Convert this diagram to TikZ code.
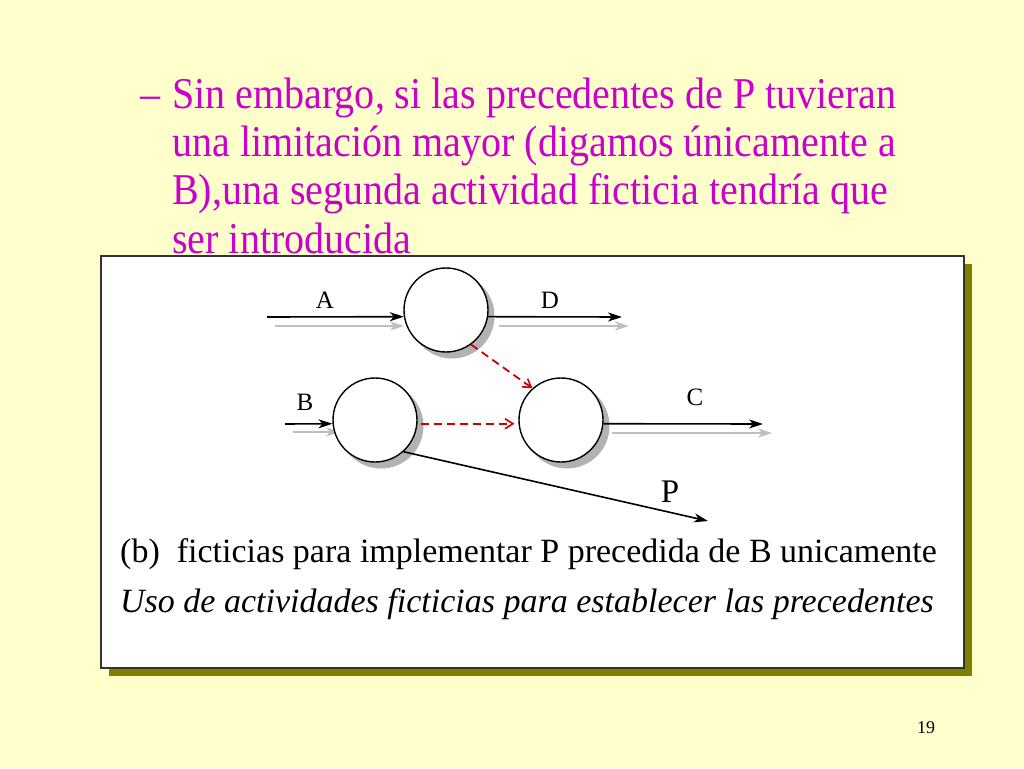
\documentclass[tikz,border=0pt]{standalone}
\usepackage{fontspec}
\setmainfont{Liberation Serif}
\usetikzlibrary{arrows.meta,calc}

\definecolor{slidebg}{RGB}{255,255,204}
\definecolor{slidetext}{RGB}{204,0,204}
\definecolor{boxshadow}{RGB}{128,128,0}
\definecolor{boxline}{RGB}{51,51,51}
\definecolor{nodeshadow}{RGB}{178,178,178}
\definecolor{arrowgray}{RGB}{190,190,190}
\definecolor{dummyred}{RGB}{204,0,0}

\newcommand{\slidetxt}[1]{\scalebox{0.91}[1]{#1}}

\tikzset{
  event/.style={circle, draw, line width=1.4pt, fill=white, minimum size=84pt, inner sep=0pt},
  evshadow/.style={circle, fill=nodeshadow, minimum size=85pt, inner sep=0pt},
  act/.style={line width=1.6pt, -{Stealth[length=14pt,width=9pt,inset=4pt]}},
  actshadow/.style={act, arrowgray, line width=1.8pt},
  dummy/.style={dummyred, line width=1.8pt, dash pattern=on 8pt off 5pt,
    -{Straight Barb[length=8pt,width=10pt,line width=1.6pt]}},
  lbl/.style={font=\fontsize{25}{25}\selectfont, inner sep=0pt},
  slideline/.style={anchor=base west, text=slidetext, font=\fontsize{44}{48}\selectfont, inner sep=0pt},
}

\begin{document}
\begin{tikzpicture}[x=1pt, y=-1pt]
  \useasboundingbox (0,0) rectangle (1024,768);
  \fill[slidebg] (0,0) rectangle (1024,768);

  % framed box with its olive shadow
  \fill[boxshadow] (109,264) rectangle (972,676);
  \draw[boxline, line width=1.6pt, fill=white] (101,256) rectangle (964,668);

  % slide text
  \node[slideline] (dash) at (140,108) {\slidetxt{–}};
  \node[slideline] (t1) at (172,108) {\slidetxt{Sin embargo, si las precedentes de P tuvieran}};
  \node[slideline] (t2) at (172,156) {\slidetxt{una limitación mayor (digamos únicamente a}};
  \node[slideline] (t3) at (172,204) {\slidetxt{B),una segunda actividad ficticia tendría que}};
  \node[slideline] (t4) at (172,253) {\slidetxt{ser introducida}};

  % gray shadows of the activities
  \coordinate (a0s) at (275,326);
  \coordinate (a1s) at (404,326);
  \coordinate (d0s) at (499,326);
  \coordinate (d1s) at (629,326);
  \coordinate (b0s) at (293,432);
  \coordinate (b1s) at (340,432);
  \coordinate (c0s) at (612,433);
  \coordinate (c1s) at (772,433);
  \draw[actshadow] (a0s) -- (a1s);
  \draw[actshadow] (d0s) -- (d1s);
  \draw[actshadow] (b0s) -- (b1s);
  \draw[actshadow] (c0s) -- (c1s);

  % events
  \node[evshadow] at (452,316) {};
  \node[evshadow] at (381,426) {};
  \node[evshadow] at (567,426) {};
  \node[event] (n1) at (446,310) {};
  \node[event] (n2) at (375,420) {};
  \node[event] (n3) at (561,420) {};

  % activities
  \coordinate (a0) at (267,317);
  \coordinate (d1) at (622,317);
  \coordinate (b0) at (285,424);
  \coordinate (c1) at (763,424);
  \coordinate (p1) at (708,521);
  \draw[act] (a0) -- (n1.189);
  \draw[act] (n1.351) -- (d1);
  \draw[act] (b0) -- (n2.185);
  \draw[act] (n3.355) -- (c1);
  \draw[act] (n2.312) -- (p1);

  % dummy activities
  \draw[dummy] (n1.306) -- (n3.132);
  \draw[dummy, shorten <=3pt, shorten >=4pt] (n2.355) -- (n3.185);

  % labels
  \node[lbl] (la) at (325,300) {A};
  \node[lbl] (ld) at (550,300) {D};
  \node[lbl] (lb) at (305,402) {B};
  \node[lbl] (lc) at (695,397) {C};
  \node[lbl, font=\fontsize{33}{33}\selectfont] (lp) at (670,492) {P};

  % captions
  \node[anchor=base west, inner sep=0pt, font=\fontsize{34}{34}\selectfont] (cap) at (120,562)
    {(b)\ \ ficticias para implementar P precedida de B unicamente};
  \node[anchor=base west, inner sep=0pt, font=\fontsize{34}{34}\selectfont\itshape] (title) at (120,612)
    {Uso de actividades ficticias para establecer las precedentes};
  \node[inner sep=0pt, font=\fontsize{18}{18}\selectfont] (page) at (926,728) {19};
\end{tikzpicture}
\end{document}
